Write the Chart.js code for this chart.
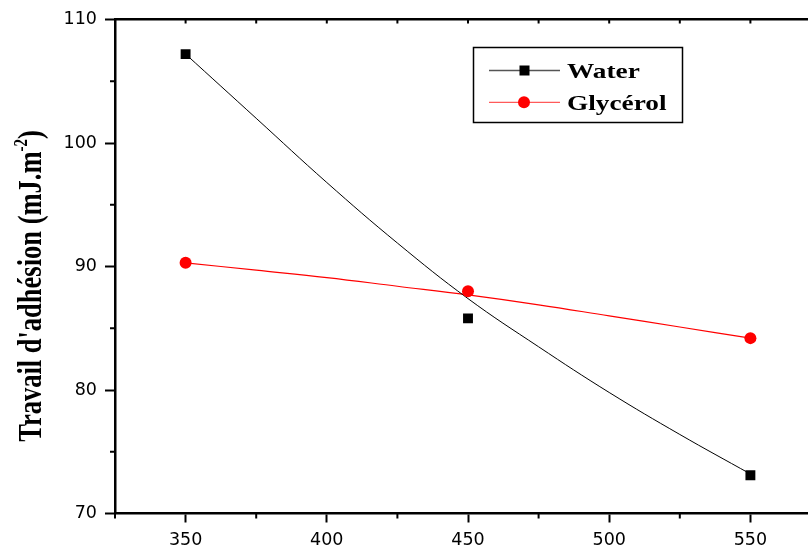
<!DOCTYPE html>
<html>
<head>
<meta charset="utf-8">
<script src="https://cdn.jsdelivr.net/npm/chart.js@4"></script>
<style>
  html, body { margin: 0; padding: 0; background: #fff; overflow: hidden; }
  #wrap { width: 828px; height: 549px; }
</style>
</head>
<body>
<div id="wrap"><canvas id="c" width="828" height="549"></canvas></div>
<script>
// ---------- Données ----------
const xPoints        = [350, 450, 550];
const waterPoints    = [107.2, 85.8, 73.1];
const glycerolPoints = [90.3, 88.0, 84.2];

// Courbes d'ajustement (relevées point par point sur l'image)
const xCurve        = [350, 375, 400, 425, 450, 475, 500, 525, 550];
const waterCurve    = [107.2, 102.0, 96.8, 91.9, 87.4, 83.5, 79.8, 76.4, 73.2];
const glycerolCurve = [90.3, 89.7, 89.1, 88.4, 87.7, 86.9, 86.0, 85.1, 84.2];

const seriesNames = ['Water', 'Glycérol'];

const xTicks = [350, 400, 450, 500, 550];
const xMinor = [325, 375, 425, 475, 525, 575];
const yTicks = [70, 80, 90, 100, 110];
const yMinor = [75, 85, 95, 105];

const yTitle    = "Travail d'adhésion (mJ.m";
const yTitleSup = '-2';
const yTitleEnd = ')';

const pts = (xs, ys) => xs.map((x, i) => ({ x, y: ys[i] }));

// ---------- Décor : petites graduations, titre Y, légende ----------
const decor = {
  id: 'decor',
  afterDraw(chart) {
    const { ctx, chartArea: a, scales: { x, y } } = chart;
    ctx.save();

    // graduations secondaires
    ctx.strokeStyle = '#000';
    ctx.lineWidth = 2;
    ctx.beginPath();
    xMinor.forEach(v => { const p = x.getPixelForValue(v); ctx.moveTo(p, a.bottom); ctx.lineTo(p, a.bottom + 5); });
    [...xTicks, ...xMinor].forEach(v => { const p = x.getPixelForValue(v); ctx.moveTo(p, a.top); ctx.lineTo(p, a.top + 4); });
    yMinor.forEach(v => { const p = y.getPixelForValue(v); ctx.moveTo(a.left, p); ctx.lineTo(a.left - 5, p); });
    ctx.stroke();

    // titre de l'axe Y (avec exposant), police un peu étirée comme sur l'original
    const fMain = "bold 26.5px 'Liberation Serif'", fSup = "bold 15px 'Liberation Serif'";
    ctx.font = fMain; const w1 = ctx.measureText(yTitle).width, w3 = ctx.measureText(yTitleEnd).width;
    ctx.font = fSup;  const w2 = ctx.measureText(yTitleSup).width;
    const tot = w1 + w2 + w3;
    ctx.translate(40.5, 286);
    ctx.rotate(-Math.PI / 2);
    ctx.scale(1, 1.25);
    ctx.fillStyle = '#000';
    ctx.textBaseline = 'alphabetic';
    ctx.textAlign = 'left';
    let u = -tot / 2;
    ctx.font = fMain; ctx.fillText(yTitle, u, 0); u += w1;
    ctx.font = fSup;  ctx.fillText(yTitleSup, u, -11); u += w2;
    ctx.font = fMain; ctx.fillText(yTitleEnd, u, 0);
    ctx.setTransform(1, 0, 0, 1, 0, 0);

    // légende
    ctx.lineWidth = 1.5;
    ctx.strokeStyle = '#000';
    ctx.strokeRect(473.5, 47.5, 209, 75);
    const rows = [
      { yc: 70.5, line: '#555', fill: '#000', shape: 'rect' },
      { yc: 102.3, line: '#ff5a5a', fill: '#ff0000', shape: 'circle' }
    ];
    rows.forEach((r, i) => {
      ctx.strokeStyle = r.line; ctx.lineWidth = 1.3;
      ctx.beginPath(); ctx.moveTo(489, r.yc); ctx.lineTo(560, r.yc); ctx.stroke();
      ctx.fillStyle = r.fill;
      if (r.shape === 'rect') ctx.fillRect(519.5, r.yc - 5, 10, 10);
      else { ctx.beginPath(); ctx.arc(524, r.yc, 6, 0, Math.PI * 2); ctx.fill(); }
      ctx.save();
      ctx.translate(567, r.yc + 7.2);
      ctx.scale(1.3, 1);
      ctx.fillStyle = '#000';
      ctx.font = "bold 21px 'Liberation Serif'";
      ctx.textBaseline = 'alphabetic';
      ctx.fillText(seriesNames[i], 0, 0);
      ctx.restore();
    });

    ctx.restore();
  }
};

// ---------- Graphique ----------
new Chart(document.getElementById('c').getContext('2d'), {
  type: 'scatter',
  data: {
    datasets: [
      { label: seriesNames[0], data: pts(xPoints, waterPoints), pointStyle: 'rect', pointRadius: 7,
        backgroundColor: '#000', borderColor: '#000', borderWidth: 0 },
      { label: seriesNames[1], data: pts(xPoints, glycerolPoints), pointStyle: 'circle', pointRadius: 6,
        backgroundColor: '#ff0000', borderColor: '#ff0000', borderWidth: 0 },
      { label: 'fit ' + seriesNames[0], data: pts(xCurve, waterCurve), showLine: true, pointRadius: 0,
        borderColor: '#000', borderWidth: 1, tension: 0.4 },
      { label: 'fit ' + seriesNames[1], data: pts(xCurve, glycerolCurve), showLine: true, pointRadius: 0,
        borderColor: '#ff0000', borderWidth: 1.2, tension: 0.4 }
    ]
  },
  options: {
    responsive: false,
    animation: false,
    layout: { padding: 0 },
    plugins: { legend: { display: false }, tooltip: { enabled: false } },
    scales: {
      x: {
        type: 'linear', position: 'bottom', min: 325, max: 575,
        afterBuildTicks: s => { s.ticks = xTicks.map(v => ({ value: v })); },
        afterFit: s => { s.height = 35.5; },
        grid: { drawOnChartArea: false, drawTicks: true, tickLength: 9, tickWidth: 2, tickColor: '#000' },
        border: { display: true, color: '#000', width: 2.5 },
        ticks: { color: '#000', font: { family: 'DejaVu Sans', size: 17.5 }, padding: 7, maxRotation: 0 }
      },
      x2: {
        type: 'linear', position: 'top', min: 325, max: 575,
        afterFit: s => { s.height = 19.5; },
        grid: { drawOnChartArea: false, drawTicks: false },
        border: { display: true, color: '#000', width: 2.5 },
        ticks: { display: false }
      },
      y: {
        type: 'linear', position: 'left', min: 70, max: 110,
        afterBuildTicks: s => { s.ticks = yTicks.map(v => ({ value: v })); },
        afterFit: s => { s.width = 115; },
        grid: { drawOnChartArea: false, drawTicks: true, tickLength: 10, tickWidth: 2, tickColor: '#000' },
        border: { display: true, color: '#000', width: 2.5 },
        ticks: { color: '#000', font: { family: 'DejaVu Sans', size: 17.5 }, padding: 8 }
      }
    }
  },
  plugins: [decor]
});
</script>
</body>
</html>
